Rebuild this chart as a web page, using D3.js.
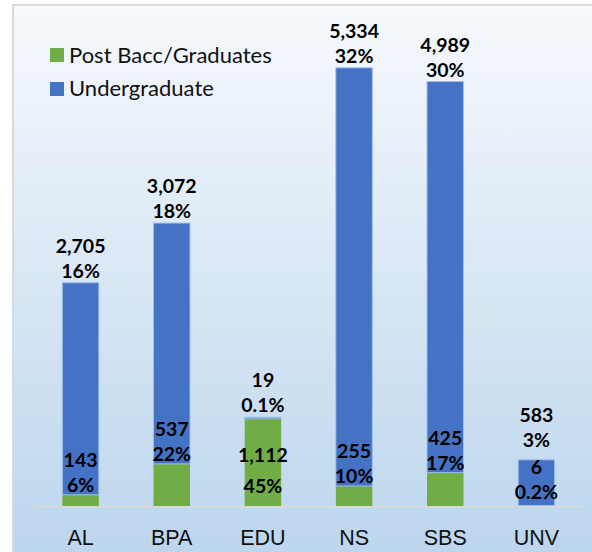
<!DOCTYPE html>
<html>
<head>
<meta charset="utf-8">
<script src="https://cdn.jsdelivr.net/npm/d3@7"></script>
<style>
  body { margin: 0; background: #fff; }
  svg { display: block; font-family: Lato, "Open Sans", sans-serif; }
  .lbl { font-weight: bold; font-size: 19.5px; fill: #000; }
  .axis-lbl { font-size: 21.5px; fill: #111; }
  .legend-lbl { font-size: 22px; fill: #111; }
</style>
</head>
<body>
<div id="chart"></div>
<script>
// data
const categories = ["AL", "BPA", "EDU", "NS", "SBS", "UNV"];
const undergrad = [2705, 3072, 19, 5334, 4989, 583];
const undergradPct = ["16%", "18%", "0.1%", "32%", "30%", "3%"];
const postBacc = [143, 537, 1112, 255, 425, 6];
const postBaccPct = ["6%", "22%", "45%", "10%", "17%", "0.2%"];
const seriesNames = ["Post Bacc/Graduates", "Undergraduate"];

function chartOne(width, height, selector) {

  let colors = { post: "#70ad47", under: "#4472c4" };

  let rows = categories.map((c, i) => ({
    cat: c,
    post: postBacc[i],
    under: undergrad[i],
    postPct: postBaccPct[i],
    underPct: undergradPct[i]
  }));

  let svg = d3.select(selector)
    .append("svg")
    .attr("width", width)
    .attr("height", height);

  // background gradient panel
  let defs = svg.append("defs");
  let grad = defs.append("linearGradient")
    .attr("id", "bg")
    .attr("x1", 0).attr("y1", 0).attr("x2", 0).attr("y2", 1);
  grad.append("stop").attr("offset", "0%").attr("stop-color", "#f6f9fd");
  grad.append("stop").attr("offset", "50%").attr("stop-color", "#d9e7f4");
  grad.append("stop").attr("offset", "100%").attr("stop-color", "#bcd6ed");

  svg.append("rect")
    .attr("x", 13).attr("y", 5)
    .attr("width", width - 13).attr("height", height - 5)
    .attr("fill", "url(#bg)");
  svg.append("line")
    .attr("x1", 13).attr("x2", 13).attr("y1", 4).attr("y2", height)
    .attr("stroke", "#d9d9d9").attr("stroke-width", 2);
  svg.append("line")
    .attr("x1", 12).attr("x2", width).attr("y1", 5).attr("y2", 5)
    .attr("stroke", "#d9d9d9").attr("stroke-width", 2);

  ///////////////////////////
  // scales
  ///////////////////////////
  let baseY = 506;

  let xScale = d3.scaleBand()
    .domain(categories)
    .range([35, 582])
    .paddingInner(0.6)
    .paddingOuter(0.3);

  let yScale = d3.scaleLinear()
    .domain([0, 6000])
    .range([baseY, baseY - 6000 * 0.0784]);

  let stack = d3.stack().keys(["post", "under"]);
  let layers = stack(rows);

  let chart = svg.append("g").attr("class", "chart");

  // axis line
  chart.append("line")
    .attr("x1", 35).attr("x2", 582)
    .attr("y1", baseY + 0.5).attr("y2", baseY + 0.5)
    .attr("stroke", "#d9d9d9").attr("stroke-width", 2);

  chart.selectAll("g.layer")
    .data(layers)
    .join("g")
    .attr("class", "layer")
    .attr("fill", d => colors[d.key])
    .selectAll("rect")
    .data(d => d)
    .join("rect")
    .attr("x", d => xScale(d.data.cat))
    .attr("width", xScale.bandwidth())
    .attr("y", d => yScale(d[1]))
    .attr("height", d => yScale(d[0]) - yScale(d[1]))
    .attr("stroke", function(d) {
      return d3.select(this.parentNode).datum().key === "under" ? "#9fbfe8" : "none";
    })
    .attr("stroke-width", 1);

  // x axis labels
  let xAxis = d3.axisBottom(xScale).tickSize(0).tickPadding(0);
  let ax = chart.append("g")
    .attr("transform", "translate(0," + baseY + ")")
    .call(xAxis);
  ax.select(".domain").remove();
  ax.selectAll("text")
    .attr("class", "axis-lbl")
    .attr("font-size", null)
    .attr("font-family", null)
    .attr("dy", null)
    .attr("y", 39);

  let cx = d => xScale(d.cat) + xScale.bandwidth() / 2;

  rows.forEach(d => {
    // post bacc labels
    let gTop = yScale(d.post);
    let cY, pY;
    if (baseY - gTop > 60) {
      cY = (gTop + baseY) / 2;
      pY = cY + 31;
    } else {
      pY = Math.min(gTop - 3, baseY - 7);
      cY = pY - 25;
    }

    // undergraduate labels (above bar)
    let top = yScale(d.post + d.under);
    let pctY = Math.min(top - 5, cY - 27);

    chart.append("text").attr("class", "lbl")
      .attr("x", cx(d)).attr("y", pctY - 25)
      .attr("text-anchor", "middle")
      .text(d3.format(",")(d.under));
    chart.append("text").attr("class", "lbl")
      .attr("x", cx(d)).attr("y", pctY)
      .attr("text-anchor", "middle")
      .text(d.underPct);

    chart.append("text").attr("class", "lbl")
      .attr("x", cx(d)).attr("y", cY)
      .attr("text-anchor", "middle")
      .text(d3.format(",")(d.post));
    chart.append("text").attr("class", "lbl")
      .attr("x", cx(d)).attr("y", pY)
      .attr("text-anchor", "middle")
      .text(d.postPct);
  });

  // legend
  let legend = svg.append("g").attr("class", "legend");
  let legendKeys = ["post", "under"];
  legend.selectAll("rect")
    .data(legendKeys)
    .join("rect")
    .attr("x", 50)
    .attr("y", (d, i) => 48 + i * 34)
    .attr("width", 14).attr("height", 14)
    .attr("fill", d => colors[d]);
  legend.selectAll("text")
    .data(seriesNames)
    .join("text")
    .attr("class", "legend-lbl")
    .attr("x", 69)
    .attr("y", (d, i) => 63 + i * 33)
    .text(d => d);
}

chartOne(592, 552, "#chart");
</script>
</body>
</html>
